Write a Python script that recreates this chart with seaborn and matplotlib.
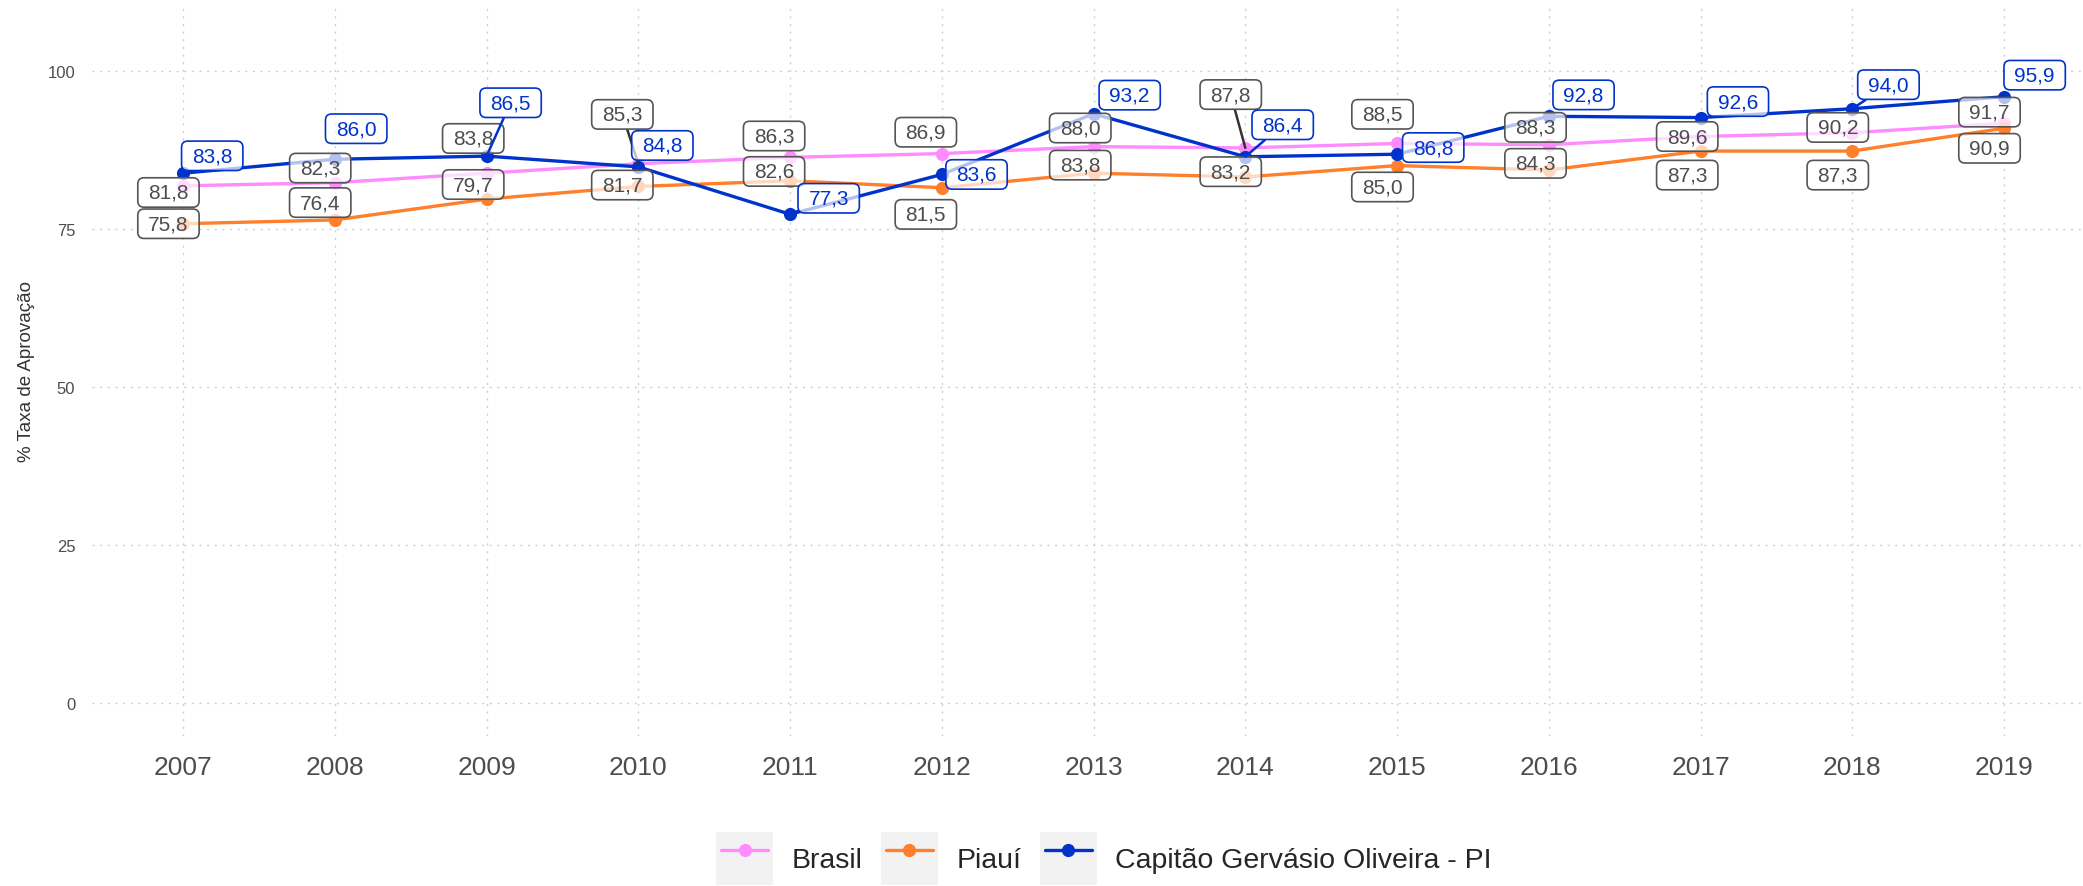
import matplotlib
matplotlib.use("Agg")
import matplotlib.pyplot as plt
import numpy as np
import pandas as pd
import seaborn as sns
from matplotlib.legend_handler import HandlerLine2D
from matplotlib.lines import Line2D
from matplotlib.patches import Rectangle, BoxStyle

# ---- data -------------------------------------------------------------
anos = [2007, 2008, 2009, 2010, 2011, 2012, 2013, 2014, 2015, 2016, 2017, 2018, 2019]
brasil = [81.8, 82.3, 83.8, 85.3, 86.3, 86.9, 88.0, 87.8, 88.5, 88.3, 89.6, 90.2, 91.7]
piaui = [75.8, 76.4, 79.7, 81.7, 82.6, 81.5, 83.8, 83.2, 85.0, 84.3, 87.3, 87.3, 90.9]
capitao = [83.8, 86.0, 86.5, 84.8, 77.3, 83.6, 93.2, 86.4, 86.8, 92.8, 92.6, 94.0, 95.9]
locais = ["Brasil", "Piauí", "Capitão Gervásio Oliveira - PI"]
y_ticks = [0, 25, 50, 75, 100]

cores = ["#FF8CFF", "#FF7F2A", "#0033CC"]

# label placement (offset from each point, in points)
off_brasil = [(-10.5, -4.8), (-10.5, 10.5), (-9.6, 25), (-11.5, 35.5), (-11.5, 15.4),
              (-11.5, 15.4), (-9.6, 13.4), (-10.5, 38.4), (-10.5, 21), (-9.6, 12.5),
              (-9.6, 0), (-10.5, 3.8), (-10.5, 8)]
off_piaui = [(-10.5, 0), (-10.5, 12.5), (-9.6, 10.5), (-11.5, 1), (-11.5, 6.7),
             (-11.5, -19.2), (-9.6, 5.8), (-10.5, 3.8), (-10.5, -15.4), (-9.6, 4.8),
             (-9.6, -17.3), (-10.5, -17.3), (-10.5, -14.4)]
off_capitao = [(21, 12.5), (15.4, 22), (17.3, 38.4), (17.3, 15.4), (27.8, 11.5),
               (25, 0), (26, 13.4), (26.9, 23), (26, 4.8), (25, 15.4),
               (26.9, 11.5), (26, 17.3), (22, 15.5)]

df = pd.DataFrame({
    "ano": anos * 3,
    "taxa": brasil + piaui + capitao,
    "local": [locais[0]] * len(anos) + [locais[1]] * len(anos) + [locais[2]] * len(anos),
})

sns.set_theme(style="white")
plt.rcParams["font.family"] = ["Liberation Sans", "DejaVu Sans"]


class WideRound(BoxStyle.Round):
    """Rounded box with extra horizontal padding."""

    def __init__(self, pad=0.22, xpad=0.5, rounding_size=0.3):
        super().__init__(pad=pad, rounding_size=rounding_size)
        self.xpad = xpad

    def __call__(self, x0, y0, width, height, mutation_size):
        extra = (self.xpad - self.pad) * mutation_size
        return super().__call__(x0 - extra, y0, width + 2 * extra, height, mutation_size)


class KeyHandler(HandlerLine2D):
    """Legend key drawn over a light grey square, line inset from the edges."""

    def create_artists(self, legend, orig_handle, xdescent, ydescent, width, height, fontsize, trans):
        bg = Rectangle((-xdescent, -ydescent), width, height, facecolor="#F2F2F2",
                       edgecolor="none", transform=trans)
        arts = list(super().create_artists(legend, orig_handle, xdescent, ydescent,
                                           width, height, fontsize, trans))
        inset = 0.09 * width
        ydata = np.asarray(arts[0].get_ydata())
        arts[0].set_data(np.linspace(-xdescent + inset, width - xdescent - inset, len(ydata)), ydata)
        return [bg] + arts


fig = plt.figure(figsize=(20.83, 8.87), dpi=100)
ax = fig.add_axes([92 / 2083, 1 - 737 / 887, 1 - 92 / 2083, 730 / 887])

sns.lineplot(data=df, x="ano", y="taxa", hue="local", hue_order=locais, palette=cores,
             marker="o", markersize=9.5, markeredgewidth=0, linewidth=2.4,
             ax=ax, legend=False, zorder=3)

ax.set_xlim(2006.4, 2019.52)
ax.set_ylim(-5.25, 110.25)
ax.set_xticks(anos)
ax.set_xticklabels([str(a) for a in anos], fontsize=19, color="#4D4D4D")
ax.set_yticks(y_ticks)
ax.set_yticklabels([str(t) for t in y_ticks], fontsize=12, color="#4D4D4D")
ax.tick_params(axis="x", length=0, pad=13.5)
ax.tick_params(axis="y", length=0, pad=12)
ax.set_xlabel("")
ax.set_ylabel("% Taxa de Aprovação", fontsize=13.5, color="#333333")
ax.yaxis.set_label_coords(-0.0286, 0.5)
ax.grid(True, color="#CFCFCF", linestyle=(0, (1.5, 4)), linewidth=1.0)
for s in ax.spines.values():
    s.set_visible(False)


def fmt(v):
    return f"{v:.1f}".replace(".", ",")


series = [
    (brasil, off_brasil, "#4D4D4D", "#555555", "#333333"),
    (piaui, off_piaui, "#4D4D4D", "#555555", "#333333"),
    (capitao, off_capitao, "#0033CC", "#0033CC", "#0033CC"),
]
for valores, offs, tcor, bcor, scor in series:
    for ano, v, (dx, dy) in zip(anos, valores, offs):
        arrow = None
        if np.hypot(dx, dy) > 30:
            arrow = dict(arrowstyle="-", color=scor, lw=1.8, shrinkA=0, shrinkB=0)
        ax.annotate(fmt(v), xy=(ano, v), xytext=(dx, dy), textcoords="offset points",
                    ha="center", va="center", fontsize=15, color=tcor, zorder=6,
                    bbox=dict(boxstyle=WideRound(pad=0.25, xpad=0.5), fc=(1, 1, 1, 0.7),
                              ec=bcor, lw=1.2),
                    arrowprops=arrow)

handles = [Line2D([], [], color=c, marker="o", markersize=9.5, markeredgewidth=0, lw=2.4)
           for c in cores]
fig.legend(handles, locais, loc="center", bbox_to_anchor=(0.530, 0.031), ncol=3,
           frameon=False, fontsize=20.5, handlelength=2.0, handleheight=2.5,
           handletextpad=0.65, columnspacing=0.65, borderaxespad=0, borderpad=0,
           handler_map={Line2D: KeyHandler()})

fig.savefig("out.png", dpi=100)
